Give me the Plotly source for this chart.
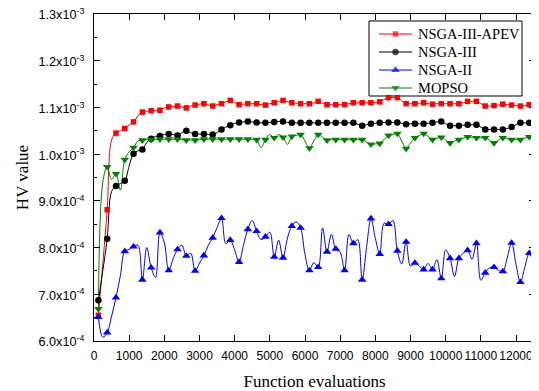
import plotly.graph_objects as go

# Function evaluations (every 125 evaluations; markers drawn on every other point)
evals = [125 * (i + 1) for i in range(100)]

# HV values in units of 1e-4
apev = [6.55, 7.65, 8.81, 10.30, 10.45, 10.50, 10.55, 10.62, 10.69, 10.82,
        10.90, 10.92, 10.93, 10.93, 10.94, 10.99, 11.01, 11.02, 11.03, 11.01,
        10.99, 11.03, 11.05, 11.07, 11.08, 11.05, 11.03, 11.06, 11.08, 11.12,
        11.15, 11.10, 11.06, 11.07, 11.08, 11.08, 11.08, 11.06, 11.05, 11.08,
        11.10, 11.13, 11.15, 11.12, 11.10, 11.09, 11.08, 11.08, 11.08, 11.10,
        11.13, 11.09, 11.06, 11.06, 11.06, 11.06, 11.06, 11.08, 11.10, 11.10,
        11.10, 11.10, 11.10, 11.11, 11.12, 11.17, 11.21, 11.21, 11.21, 11.14,
        11.08, 11.08, 11.08, 11.09, 11.10, 11.08, 11.07, 11.08, 11.08, 11.08,
        11.08, 11.08, 11.08, 11.10, 11.13, 11.13, 11.13, 11.08, 11.03, 11.03,
        11.04, 11.05, 11.07, 11.06, 11.05, 11.04, 11.03, 11.04, 11.06, 11.06]

nsga3 = [6.87, 7.50, 8.19, 9.20, 9.32, 9.37, 9.43, 9.75, 10.01, 10.07,
         10.10, 10.25, 10.33, 10.38, 10.39, 10.42, 10.43, 10.42, 10.40, 10.46,
         10.50, 10.46, 10.43, 10.43, 10.43, 10.42, 10.42, 10.46, 10.53, 10.58,
         10.62, 10.66, 10.68, 10.69, 10.70, 10.69, 10.68, 10.67, 10.67, 10.68,
         10.69, 10.70, 10.70, 10.68, 10.67, 10.67, 10.67, 10.67, 10.67, 10.67,
         10.67, 10.67, 10.67, 10.67, 10.67, 10.67, 10.67, 10.67, 10.67, 10.64,
         10.61, 10.63, 10.65, 10.66, 10.67, 10.68, 10.68, 10.68, 10.68, 10.66,
         10.64, 10.65, 10.65, 10.65, 10.65, 10.66, 10.67, 10.69, 10.70, 10.65,
         10.61, 10.61, 10.61, 10.62, 10.63, 10.63, 10.63, 10.58, 10.53, 10.53,
         10.53, 10.53, 10.53, 10.55, 10.58, 10.63, 10.67, 10.67, 10.67, 10.58]

nsga2 = [6.51, 6.08, 6.18, 6.53, 6.93, 7.40, 7.92, 7.96, 8.02, 8.05,
         7.31, 8.00, 7.57, 7.36, 8.32, 8.10, 7.51, 7.76, 7.96, 8.05,
         7.82, 7.88, 7.50, 7.67, 7.83, 8.05, 8.21, 8.43, 8.63, 8.08,
         8.16, 7.95, 7.69, 8.05, 8.39, 8.58, 8.35, 8.17, 8.23, 8.33,
         7.80, 8.16, 7.78, 8.20, 8.46, 8.55, 8.42, 7.85, 7.51, 7.68,
         7.58, 8.42, 7.91, 8.28, 7.97, 7.90, 7.51, 8.28, 8.09, 8.17,
         7.31, 8.00, 8.62, 8.20, 7.86, 8.52, 8.50, 8.58, 7.93, 7.65,
         8.12, 7.60, 7.67, 7.60, 7.53, 7.66, 7.53, 7.74, 7.34, 7.95,
         7.77, 7.38, 7.77, 7.88, 7.94, 7.75, 8.09, 7.30, 7.46, 7.57,
         7.58, 7.51, 7.49, 7.78, 8.10, 7.64, 7.26, 7.58, 7.88, 7.62]

mopso = [6.69, 9.40, 9.73, 9.46, 9.58, 9.23, 9.88, 10.05, 10.14, 10.28,
         10.30, 10.31, 10.31, 10.31, 10.32, 10.32, 10.32, 10.32, 10.32, 10.31,
         10.30, 10.30, 10.30, 10.31, 10.32, 10.32, 10.32, 10.32, 10.32, 10.32,
         10.32, 10.32, 10.32, 10.32, 10.32, 10.31, 10.31, 10.14, 10.31, 10.42,
         10.35, 10.42, 10.36, 10.21, 10.38, 10.40, 10.42, 10.28, 10.13, 10.28,
         10.42, 10.36, 10.30, 10.31, 10.31, 10.31, 10.31, 10.31, 10.31, 10.31,
         10.31, 10.26, 10.21, 10.22, 10.23, 10.32, 10.40, 10.42, 10.44, 10.28,
         10.12, 10.24, 10.35, 10.40, 10.44, 10.38, 10.31, 10.34, 10.36, 10.30,
         10.24, 10.28, 10.31, 10.34, 10.37, 10.36, 10.35, 10.35, 10.35, 10.30,
         10.24, 10.30, 10.35, 10.33, 10.31, 10.31, 10.31, 10.34, 10.37, 10.36]

series_names = ["NSGA-III-APEV", "NSGA-III", "NSGA-II", "MOPSO"]
x_tickvals = list(range(0, 13000, 1000))
x_ticktext = [str(v) for v in x_tickvals]
y_tickvals = [6e-4, 7e-4, 8e-4, 9e-4, 1.0e-3, 1.1e-3, 1.2e-3, 1.3e-3]
y_ticktext = ["6.0x10<sup>-4</sup>", "7.0x10<sup>-4</sup>", "8.0x10<sup>-4</sup>",
              "9.0x10<sup>-4</sup>", "1.0x10<sup>-3</sup>", "1.1x10<sup>-3</sup>",
              "1.2x10<sup>-3</sup>", "1.3x10<sup>-3</sup>"]

styles = [
    dict(color="#FF0000", symbol="square", size=5.5),
    dict(color="#000000", symbol="circle", size=6.5),
    dict(color="#0000FF", symbol="triangle-up", size=7.5),
    dict(color="#008000", symbol="triangle-down", size=7.5),
]
data = [apev, nsga3, nsga2, mopso]

fig = go.Figure()
# smooth connecting lines through all points
for name, vals, st in zip(series_names, data, styles):
    fig.add_trace(go.Scatter(
        x=evals, y=[v * 1e-4 for v in vals], mode="lines", name=name,
        line=dict(color=st["color"], width=1, shape="spline", smoothing=1),
        showlegend=False, hoverinfo="skip"))
# markers on every other point
for name, vals, st in zip(series_names, data, styles):
    ym = [v * 1e-4 if i % 2 == 0 else None for i, v in enumerate(vals)]
    fig.add_trace(go.Scatter(
        x=evals, y=ym, mode="markers", name=name, showlegend=False,
        marker=dict(color=st["color"], symbol=st["symbol"], size=st["size"],
                    line=dict(width=0))))

# ---- compact legend (box, samples and labels) in plot-area fractions ----
leg_x0, leg_x1, leg_top, leg_bot = 0.6236, 0.9705, 0.9786, 0.7492
samp_x0, samp_x1, text_x = 0.6463, 0.7211, 0.7302
row_y = [0.9388, 0.8838, 0.8287, 0.7737]
fig.add_shape(type="rect", xref="paper", yref="paper", x0=leg_x0, x1=leg_x1,
              y0=leg_bot, y1=leg_top, line=dict(color="black", width=1),
              fillcolor="white", layer="below")
for name, st, ry in zip(series_names, styles, row_y):
    fig.add_trace(go.Scatter(
        x=[samp_x0, (samp_x0 + samp_x1) / 2, samp_x1], y=[ry, ry, ry],
        xaxis="x2", yaxis="y2", mode="lines+markers", showlegend=False,
        hoverinfo="skip", line=dict(color=st["color"], width=1),
        marker=dict(color=st["color"], symbol=st["symbol"],
                    size=[0, st["size"], 0], line=dict(width=0))))
    fig.add_annotation(x=text_x, y=ry, xref="paper", yref="paper", text=name,
                       showarrow=False, xanchor="left", yanchor="middle",
                       font=dict(family="Liberation Serif, Times New Roman, serif",
                                 size=14.5, color="black"))

tick_font_x = dict(family="Liberation Sans, Arial, sans-serif", size=12, color="black")
tick_font_y = dict(family="Liberation Sans, Arial, sans-serif", size=12.7, color="black")
title_font = dict(family="Liberation Serif, Times New Roman, serif", size=17, color="black")

# the page body adds an 8 px offset, so the figure is sized to fill the window exactly
fig.update_layout(
    width=531, height=383,
    margin=dict(l=86, r=4, t=6, b=50),
    plot_bgcolor="white", paper_bgcolor="white",
    showlegend=False,
    xaxis=dict(range=[0, 12540], tickmode="array", tickvals=x_tickvals, ticktext=x_ticktext,
               tickangle=0, ticks="inside", ticklen=6, tickcolor="black",
               showline=True, linecolor="black", linewidth=1, mirror="allticks",
               showgrid=False, zeroline=False, tickfont=tick_font_x, automargin=False,
               ticklabelstandoff=4, ticklabeloverflow="allow",
               title=dict(text="Function evaluations", font=title_font, standoff=12)),
    yaxis=dict(range=[6e-4, 1.3e-3], tickmode="array", tickvals=y_tickvals, ticktext=y_ticktext,
               ticks="inside", ticklen=6, tickcolor="black",
               showline=True, linecolor="black", linewidth=1, mirror="allticks",
               showgrid=False, zeroline=False, tickfont=tick_font_y, automargin=False,
               ticklabelstandoff=6, ticklabelshift=1, ticklabeloverflow="allow",
               minor=dict(tickmode="linear", tick0=6e-4, dtick=5e-5, ticks="inside",
                          ticklen=3, tickcolor="black", showgrid=False),
               title=dict(text="HV value", font=title_font, standoff=5)),
    xaxis2=dict(overlaying="x", anchor="y2", range=[0, 1], visible=False, fixedrange=True),
    yaxis2=dict(overlaying="y", anchor="x2", range=[0, 1], visible=False, fixedrange=True),
)

fig.write_html("out.html")
